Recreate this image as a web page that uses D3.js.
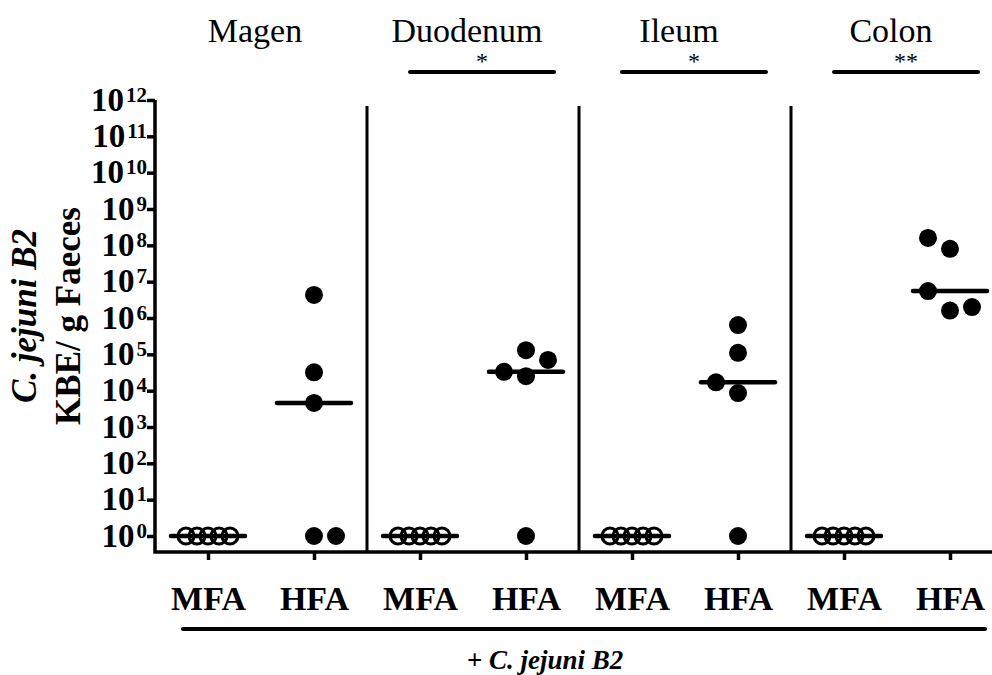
<!DOCTYPE html>
<html>
<head>
<meta charset="utf-8">
<script src="https://cdn.jsdelivr.net/npm/d3@7"></script>
<style>
  body { margin: 0; background: #fff; }
  svg { display: block; }
  text { font-family: "Liberation Serif", "Times New Roman", Times, serif; fill: #000; }
</style>
</head>
<body>
<svg id="chart" width="992" height="675"></svg>
<script>
// Gut sections and diet groups
const regions = ["Magen", "Duodenum", "Ileum", "Colon"];
const diets = ["MFA", "HFA"];
const significance = ["", "*", "*", "**"];
const yExponents = [0, 1, 2, 3, 4, 5, 6, 7, 8, 9, 10, 11, 12];

// C. jejuni B2 loads (KBE / g) per animal
const mfaMagen = [1, 1, 1, 1, 1];
const hfaMagen = [4.3e6, 3.2e4, 4.6e3, 1, 1];
const mfaDuodenum = [1, 1, 1, 1, 1];
const hfaDuodenum = [1.3e5, 2.5e4, 3.3e4, 7.0e4, 1];
const mfaIleum = [1, 1, 1, 1, 1];
const hfaIleum = [6.4e5, 1.1e5, 8.6e3, 1.7e4, 1];
const mfaColon = [1, 1, 1, 1, 1];
const hfaColon = [8.0e7, 1.6e6, 1.6e8, 5.5e6, 2.0e6];

const groupValues = {
  "Magen|MFA": mfaMagen, "Magen|HFA": hfaMagen,
  "Duodenum|MFA": mfaDuodenum, "Duodenum|HFA": hfaDuodenum,
  "Ileum|MFA": mfaIleum, "Ileum|HFA": hfaIleum,
  "Colon|MFA": mfaColon, "Colon|HFA": hfaColon
};

const categories = regions.flatMap(r => diets.map(d => r + "|" + d));

const svg = d3.select("#chart");
const axisLeftX = 155, axisBottomY = 552, axisTopY = 100;

const x = d3.scalePoint().domain(categories).range([155, 1003]).padding(0.5);
const y = d3.scaleLog().domain([1, 1e12]).range([536, 100]);

// Separators between gut sections
for (let i = 0; i < regions.length - 1; i++) {
  const xm = (x(regions[i] + "|HFA") + x(regions[i + 1] + "|MFA")) / 2;
  svg.append("line")
    .attr("x1", xm).attr("x2", xm).attr("y1", 106).attr("y2", axisBottomY)
    .attr("stroke", "#000").attr("stroke-width", 3);
}

// Y axis
const yAxis = d3.axisLeft(y)
  .tickValues(yExponents.map(e => Math.pow(10, e)))
  .tickSize(8)
  .tickFormat(() => "");
const gy = svg.append("g").attr("transform", `translate(${axisLeftX},0)`).call(yAxis);
gy.select(".domain").remove();
gy.selectAll(".tick line").attr("stroke", "#000").attr("stroke-width", 3.5);
gy.selectAll(".tick text").remove();
gy.selectAll(".tick").each(function (d) {
  const t = d3.select(this).append("text")
    .attr("x", -8).attr("y", 10)
    .attr("text-anchor", "end")
    .attr("font-weight", "bold")
    .attr("font-size", 33);
  t.append("tspan").text("10");
  t.append("tspan").attr("dx", 2).attr("dy", -9).attr("font-size", 21)
    .text(Math.round(Math.log10(d)));
});

// X axis
const xAxis = d3.axisBottom(x).tickSize(8).tickFormat(d => d.split("|")[1]);
const gx = svg.append("g").attr("transform", `translate(0,${axisBottomY})`).call(xAxis);
gx.select(".domain").remove();
gx.selectAll(".tick line").attr("stroke", "#000").attr("stroke-width", 3.5);
gx.selectAll(".tick text")
  .attr("y", 58).attr("dy", 0)
  .attr("font-size", 34).attr("font-weight", "bold")
  .attr("font-family", "'Liberation Serif', 'Times New Roman', serif");

// Axis lines
svg.append("path")
  .attr("d", `M${axisLeftX},${axisTopY}V${axisBottomY}H992`)
  .attr("fill", "none").attr("stroke", "#000").attr("stroke-width", 3.5)
  .attr("stroke-linejoin", "miter");

// Arrange the points of a group side by side where they would overlap;
// tied values go to the right first, other clashes to the left first
function spread(values, step) {
  const placed = [];
  values.forEach(v => {
    const py = y(v);
    const tied = placed.some(p => p.v === v);
    const order = tied ? [0, 1, -1, 2, -2, 3, -3] : [0, -1, 1, -2, 2, -3, 3];
    for (const k of order) {
      const clash = placed.some(p => p.k === k && Math.abs(p.py - py) < 24);
      if (!clash) { placed.push({ v, py, k, dx: k * step }); break; }
    }
  });
  return placed;
}

categories.forEach(cat => {
  const vals = groupValues[cat];
  const cx = x(cat);
  const open = cat.endsWith("MFA");
  const allTied = vals.every(v => v === vals[0]);
  const med = d3.median(vals);

  // median bar
  svg.append("line")
    .attr("x1", cx - 37).attr("x2", cx + 37)
    .attr("y1", y(med)).attr("y2", y(med))
    .attr("stroke", "#000").attr("stroke-width", 4.5).attr("stroke-linecap", "round");

  const pts = spread(vals, allTied ? 11 : 22).sort((a, b) => a.dx - b.dx);
  svg.append("g").selectAll("circle").data(pts).join("circle")
    .attr("cx", d => cx + d.dx)
    .attr("cy", d => d.py)
    .attr("r", open ? 8 : 9)
    .attr("fill", open ? "none" : "#000")
    .attr("stroke", "#000")
    .attr("stroke-width", open ? 3 : 0);
});

// Section titles and significance bars
regions.forEach((r, i) => {
  const x1 = x(r + "|MFA"), x2 = x(r + "|HFA");
  svg.append("text")
    .attr("x", (x1 + x2) / 2 - 6).attr("y", 42)
    .attr("text-anchor", "middle").attr("font-size", 34)
    .text(r);
  if (significance[i]) {
    const a = x1 - 10, b = x2 + 28;
    svg.append("line")
      .attr("x1", a).attr("x2", b).attr("y1", 72).attr("y2", 72)
      .attr("stroke", "#000").attr("stroke-width", 4).attr("stroke-linecap", "round");
    svg.append("text")
      .attr("x", (a + b) / 2).attr("y", 69)
      .attr("text-anchor", "middle").attr("font-size", 24)
      .text(significance[i]);
  }
});

// Infection bracket below the axis
const first = x(categories[0]), last = x(categories[categories.length - 1]);
svg.append("line")
  .attr("x1", first - 25).attr("x2", last + 35).attr("y1", 629).attr("y2", 629)
  .attr("stroke", "#000").attr("stroke-width", 4).attr("stroke-linecap", "round");
svg.append("text")
  .attr("x", 545).attr("y", 669)
  .attr("text-anchor", "middle")
  .attr("font-size", 27).attr("font-weight", "bold").attr("font-style", "italic")
  .text("+ C. jejuni B2");

// Y axis title
const yt = svg.append("g").attr("transform", "translate(0,316) rotate(-90)");
yt.append("text")
  .attr("x", 0).attr("y", 36)
  .attr("text-anchor", "middle")
  .attr("font-size", 35).attr("font-weight", "bold").attr("font-style", "italic")
  .text("C. jejuni B2");
yt.append("text")
  .attr("x", 0).attr("y", 80)
  .attr("text-anchor", "middle")
  .attr("font-size", 35).attr("font-weight", "bold")
  .text("KBE/ g Faeces");
</script>
</body>
</html>
